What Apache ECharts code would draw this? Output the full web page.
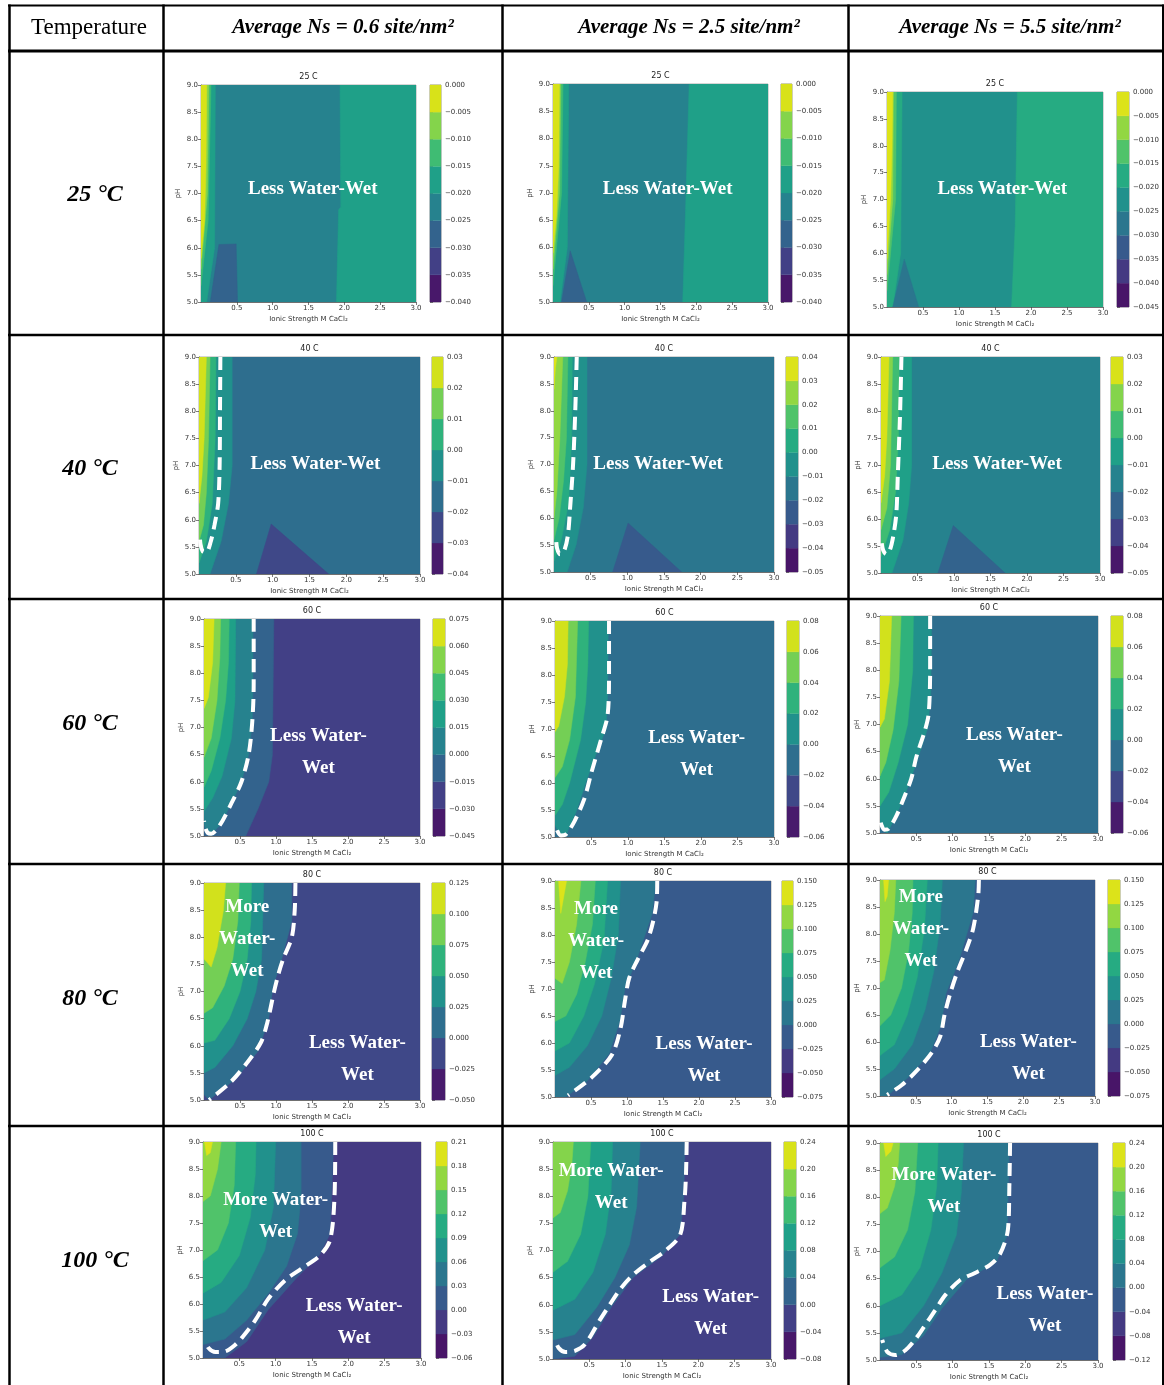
<!DOCTYPE html>
<html><head><meta charset="utf-8">
<script src="https://cdn.jsdelivr.net/npm/echarts@6/dist/echarts.min.js"></script>
<style>html,body{margin:0;padding:0;background:#fff}#c{width:1164px;height:1385px}</style>
</head><body><div id="c"></div>
<script>
// ---------------- DATA ----------------
const temperatureLabels = ['25 °C', '40 °C', '60 °C', '80 °C', '100 °C'];
const plotTitles = ['25 C', '40 C', '60 C', '80 C', '100 C'];
const densityHeaders = ['Average Ns = 0.6 site/nm²', 'Average Ns = 2.5 site/nm²', 'Average Ns = 5.5 site/nm²'];
const headerFirst = 'Temperature';
const xTicks = [0.5, 1.0, 1.5, 2.0, 2.5, 3.0];
const yTicks = [5.0, 5.5, 6.0, 6.5, 7.0, 7.5, 8.0, 8.5, 9.0];
const xName = 'Ionic Strength M CaCl₂';
const yName = 'pH';

// colorbar levels [min, max, step] per column
const levels25 = [[-0.040, 0.000, 0.005], [-0.040, 0.000, 0.005], [-0.045, 0.000, 0.005]];
const levels40 = [[-0.04, 0.03, 0.01], [-0.05, 0.04, 0.01], [-0.05, 0.03, 0.01]];
const levels60 = [[-0.045, 0.075, 0.015], [-0.06, 0.08, 0.02], [-0.06, 0.08, 0.02]];
const levels80 = [[-0.050, 0.125, 0.025], [-0.075, 0.150, 0.025], [-0.075, 0.150, 0.025]];
const levels100 = [[-0.06, 0.21, 0.03], [-0.08, 0.24, 0.04], [-0.12, 0.24, 0.04]];

// filled contour regions: base band index, then [band index, polygon of (ionic strength, pH)]
const fill25a = {base: 3, regions: [
  [4, [[1.89,5],[1.92,6.7],[1.95,6.75],[1.94,9],[3,9],[3,5]]],
  [4, [[0,5],[0.08,5],[0.19,6.0],[0.2,9],[0,9]]],
  [5, [[0,5.3],[0.1,6.5],[0.14,9],[0,9]]],
  [6, [[0,5.6],[0.09,7],[0.11,9],[0,9]]],
  [7, [[0,5.8],[0.05,6.5],[0.07,7.5],[0.08,9],[0,9]]],
  [2, [[0.13,5],[0.25,6.06],[0.49,6.07],[0.51,5]]]
]};
const fill25b = {base: 3, regions: [
  [4, [[1.81,5],[1.85,6.7],[1.9,9],[3,9],[3,5]]],
  [4, [[0,5],[0.1,5],[0.2,6.0],[0.22,9],[0,9]]],
  [5, [[0,5.3],[0.12,7],[0.14,9],[0,9]]],
  [6, [[0,5.6],[0.09,7],[0.11,9],[0,9]]],
  [7, [[0,5.9],[0.05,6.6],[0.08,7.5],[0.09,9],[0,9]]],
  [2, [[0.12,5],[0.24,5.94],[0.47,5]]]
]};
const fill25c = {base: 4, regions: [
  [5, [[1.73,5],[1.78,6.5],[1.81,9],[3,9],[3,5]]],
  [5, [[0,5],[0.08,5],[0.19,6],[0.21,9],[0,9]]],
  [6, [[0,5.3],[0.12,7],[0.13,9],[0,9]]],
  [7, [[0,5.6],[0.08,7],[0.09,9],[0,9]]],
  [8, [[0,5.9],[0.05,7],[0.07,8],[0.08,9],[0,9]]],
  [3, [[0.08,5],[0.24,5.89],[0.44,5]]]
]};
const fill40a = {base: 2, regions: [
  [3, [[0,5],[0.15,5],[0.3,5.6],[0.4,6.3],[0.45,7],[0.45,9],[0,9]]],
  [4, [[0,5.2],[0.1,5.6],[0.18,6.3],[0.22,7.5],[0.23,9],[0,9]]],
  [5, [[0,5.6],[0.06,5.9],[0.1,6.5],[0.13,7.5],[0.15,9],[0,9]]],
  [6, [[0,6.3],[0.04,6.8],[0.07,7.5],[0.1,9],[0,9]]],
  [1, [[0.78,5],[0.98,5.92],[1.76,5]]]
]};
const fill40b = {base: 3, regions: [
  [4, [[0,5],[0.18,5],[0.3,5.5],[0.4,6.2],[0.45,7],[0.45,9],[0,9]]],
  [5, [[0,5.2],[0.1,5.6],[0.2,6.3],[0.24,7.5],[0.25,9],[0,9]]],
  [6, [[0,5.6],[0.07,6],[0.13,6.7],[0.17,7.5],[0.19,9],[0,9]]],
  [7, [[0,6],[0.04,6.5],[0.08,7.5],[0.12,9],[0,9]]],
  [8, [[0,8.4],[0.02,8.8],[0.04,9],[0,9]]],
  [2, [[0.8,5],[1.01,5.91],[1.74,5]]]
]};
const fill40c = {base: 3, regions: [
  [4, [[0,5],[0.15,5],[0.3,5.6],[0.38,6.3],[0.42,7],[0.42,9],[0,9]]],
  [5, [[0,5.3],[0.12,5.8],[0.2,6.5],[0.24,7.5],[0.25,9],[0,9]]],
  [6, [[0,5.8],[0.08,6.2],[0.13,7],[0.16,9],[0,9]]],
  [7, [[0,6.3],[0.05,6.8],[0.08,7.5],[0.11,9],[0,9]]],
  [2, [[0.78,5],[0.99,5.88],[1.7,5]]]
]};
const fill60a = {base: 1, regions: [
  [2, [[0,5],[0.58,5],[0.75,5.5],[0.9,6.0],[0.95,6.5],[0.97,9],[0,9]]],
  [3, [[0,5.25],[0.03,5.08],[0.08,5.0],[0.22,5.2],[0.38,5.6],[0.52,6.0],[0.62,6.5],[0.67,7.1],[0.68,7.8],[0.68,9],[0,9]]],
  [4, [[0,5.45],[0.12,5.7],[0.25,6.1],[0.38,6.8],[0.43,7.5],[0.44,9],[0,9]]],
  [5, [[0,5.9],[0.1,6.2],[0.22,6.8],[0.3,7.5],[0.34,8.2],[0.35,9],[0,9]]],
  [6, [[0,6.45],[0.1,6.8],[0.18,7.5],[0.22,8.3],[0.23,9],[0,9]]],
  [7, [[0,7.35],[0.06,7.55],[0.12,8.2],[0.14,9],[0,9]]]
]};
const fill60b = {base: 2, regions: [
  [3, [[0,5.22],[0.06,5.05],[0.14,5],[0.3,5.5],[0.42,6.0],[0.58,6.6],[0.7,7.0],[0.72,7.6],[0.73,9],[0,9]]],
  [4, [[0,5.4],[0.1,5.6],[0.2,6.0],[0.35,6.8],[0.42,7.5],[0.45,8.2],[0.46,9],[0,9]]],
  [5, [[0,6.1],[0.1,6.3],[0.2,6.8],[0.28,7.6],[0.31,9],[0,9]]],
  [6, [[0,6.95],[0.05,7.05],[0.13,7.6],[0.17,8.2],[0.18,9],[0,9]]]
]};
const fill60c = {base: 2, regions: [
  [3, [[0,5.22],[0.04,5.05],[0.1,5],[0.25,5.4],[0.4,5.9],[0.55,6.5],[0.66,6.95],[0.7,7.6],[0.71,9],[0,9]]],
  [4, [[0,5.5],[0.12,5.75],[0.25,6.3],[0.38,7.0],[0.45,8],[0.46,9],[0,9]]],
  [5, [[0,6.05],[0.08,6.3],[0.18,6.9],[0.26,7.8],[0.29,9],[0,9]]],
  [6, [[0,6.95],[0.06,7.1],[0.13,7.8],[0.16,9],[0,9]]]
]};
const fill80a = {base: 1, regions: [
  [2, [[0,5.1],[0.07,5],[0.45,5.4],[0.75,5.9],[0.9,6.5],[0.96,7.1],[1.06,7.5],[1.22,8.3],[1.22,9],[0,9]]],
  [3, [[0,5.5],[0.15,5.6],[0.4,6.0],[0.6,6.5],[0.72,7.0],[0.8,7.6],[0.83,9],[0,9]]],
  [4, [[0,6.05],[0.15,6.1],[0.35,6.5],[0.5,7],[0.6,7.6],[0.65,8.3],[0.66,9],[0,9]]],
  [5, [[0,6.6],[0.12,6.7],[0.28,7.1],[0.4,7.6],[0.47,8.3],[0.49,9],[0,9]]],
  [6, [[0,7.6],[0.1,7.45],[0.18,7.8],[0.27,8.5],[0.3,9],[0,9]]]
]};
const fill80b = {base: 2, regions: [
  [3, [[0,5],[0.15,5],[0.45,5.3],[0.75,5.8],[0.9,6.4],[0.97,7.0],[1.15,7.6],[1.35,8.4],[1.4,9],[0,9]]],
  [4, [[0,5.4],[0.2,5.55],[0.45,5.95],[0.65,6.5],[0.78,7.2],[0.88,8],[0.91,9],[0,9]]],
  [5, [[0,5.85],[0.2,6.0],[0.4,6.5],[0.55,7.1],[0.68,7.9],[0.73,9],[0,9]]],
  [6, [[0,6.4],[0.15,6.5],[0.3,6.9],[0.42,7.5],[0.52,8.2],[0.56,9],[0,9]]],
  [7, [[0,7.2],[0.1,7.1],[0.2,7.5],[0.3,8.2],[0.36,9],[0,9]]],
  [8, [[0.05,9],[0.08,8.4],[0.12,8.7],[0.16,9]]]
]};
const fill80c = {base: 2, regions: [
  [3, [[0,5],[0.1,5],[0.4,5.35],[0.7,5.8],[0.85,6.3],[0.92,6.9],[1.1,7.5],[1.3,8.4],[1.33,9],[0,9]]],
  [4, [[0,5.3],[0.2,5.5],[0.45,5.95],[0.63,6.6],[0.75,7.3],[0.84,8.2],[0.87,9],[0,9]]],
  [5, [[0,5.75],[0.2,5.95],[0.38,6.5],[0.52,7.2],[0.62,8.1],[0.66,9],[0,9]]],
  [6, [[0,6.3],[0.15,6.5],[0.3,7],[0.4,7.7],[0.45,8.4],[0.46,9],[0,9]]],
  [7, [[0,7.1],[0.06,7.15],[0.14,7.7],[0.2,8.4],[0.22,9],[0,9]]],
  [8, [[0.05,9],[0.07,8.6],[0.1,8.7],[0.12,9]]]
]};
const fill100a = {base: 1, regions: [
  [2, [[0,5.0],[0.3,5.0],[0.6,5.3],[0.9,5.9],[1.3,6.5],[1.6,6.9],[1.75,7.3],[1.8,9],[0,9]]],
  [3, [[0,5.25],[0.3,5.35],[0.6,5.7],[0.9,6.2],[1.15,6.7],[1.3,7.3],[1.35,8],[1.35,9],[0,9]]],
  [4, [[0,5.7],[0.3,5.85],[0.6,6.3],[0.85,7],[0.97,7.8],[1.0,9],[0,9]]],
  [5, [[0,6.2],[0.25,6.4],[0.5,6.9],[0.65,7.6],[0.72,8.4],[0.73,9],[0,9]]],
  [6, [[0,6.8],[0.2,7.0],[0.35,7.5],[0.43,8.2],[0.45,9],[0,9]]],
  [7, [[0,7.9],[0.1,8.0],[0.2,8.5],[0.25,9],[0,9]]],
  [8, [[0.02,9],[0.05,8.75],[0.1,8.8],[0.13,9]]]
]};
const fill100b = {base: 1, regions: [
  [2, [[0,5.0],[0.3,5.05],[0.55,5.4],[0.8,5.95],[1.1,6.5],[1.5,6.9],[1.75,7.3],[1.8,8],[1.82,9],[0,9]]],
  [3, [[0,5.35],[0.3,5.45],[0.6,5.95],[0.85,6.5],[1.05,7.1],[1.15,7.8],[1.2,9],[0,9]]],
  [4, [[0,5.9],[0.3,6.1],[0.55,6.6],[0.72,7.3],[0.8,8.1],[0.82,9],[0,9]]],
  [5, [[0,6.6],[0.2,6.8],[0.38,7.3],[0.48,8],[0.52,9],[0,9]]],
  [6, [[0,7.6],[0.1,7.7],[0.2,8.1],[0.26,8.6],[0.28,9],[0,9]]]
]};
const fill100c = {base: 2, regions: [
  [3, [[0,5.05],[0.3,5.1],[0.6,5.45],[0.85,5.95],[1.2,6.5],[1.6,6.8],[1.75,7.3],[1.78,9],[0,9]]],
  [4, [[0,5.4],[0.3,5.5],[0.6,6.0],[0.85,6.6],[1.05,7.3],[1.12,8.1],[1.15,9],[0,9]]],
  [5, [[0,6.0],[0.3,6.2],[0.55,6.7],[0.7,7.4],[0.78,8.2],[0.8,9],[0,9]]],
  [6, [[0,6.7],[0.2,6.9],[0.38,7.4],[0.48,8.1],[0.52,9],[0,9]]],
  [7, [[0,7.7],[0.1,7.8],[0.2,8.2],[0.25,8.6],[0.27,9],[0,9]]],
  [8, [[0.05,9],[0.08,8.75],[0.15,8.85],[0.18,9]]]
]};

// dashed boundary (zero contour) lines
const dash40a = [[0.29,9],[0.285,8],[0.28,7],[0.26,6.3],[0.21,5.9],[0.16,5.6],[0.1,5.4],[0.05,5.42],[0.02,5.55],[0.01,5.75]];
const dash40b = [[0.31,9],[0.29,8],[0.26,7],[0.22,6.2],[0.19,5.69],[0.14,5.4],[0.08,5.33],[0.04,5.45],[0.03,5.6]];
const dash40c = [[0.28,9],[0.26,7.9],[0.23,6.8],[0.21,6.1],[0.17,5.7],[0.12,5.42],[0.07,5.35],[0.03,5.42],[0.01,5.55]];
const dash60a = [[0.69,9],[0.69,7.8],[0.67,7.1],[0.62,6.5],[0.52,6.0],[0.38,5.6],[0.22,5.2],[0.1,5.04],[0.05,5.06],[0.02,5.15],[0,5.28]];
const dash60b = [[0.74,9],[0.74,8],[0.72,7.25],[0.63,6.8],[0.5,6.2],[0.4,5.7],[0.27,5.3],[0.15,5.05],[0.08,5.03],[0.03,5.12],[0.01,5.25]];
const dash60c = [[0.69,9],[0.69,8],[0.67,7.2],[0.62,6.9],[0.5,6.4],[0.43,6.0],[0.33,5.65],[0.22,5.3],[0.12,5.08],[0.06,5.06],[0.02,5.15],[0,5.28]];
const dash80a = [[1.27,9],[1.26,8.5],[1.22,8.0],[1.1,7.6],[1.04,7.35],[0.97,6.98],[0.88,6.43],[0.79,6.06],[0.6,5.69],[0.37,5.33],[0.07,5.0]];
const dash80b = [[1.42,9],[1.41,8.6],[1.3,7.95],[1.15,7.55],[1.03,7.2],[0.97,6.77],[0.91,6.27],[0.79,5.78],[0.5,5.35],[0.18,5.03]];
const dash80c = [[1.38,9],[1.37,8.7],[1.3,8.1],[1.2,7.7],[1.08,7.3],[0.98,6.9],[0.9,6.5],[0.84,6.1],[0.72,5.8],[0.5,5.45],[0.3,5.2],[0.1,5.02]];
const dash100a = [[1.82,9],[1.81,8],[1.75,7.19],[1.61,6.9],[1.35,6.65],[1.13,6.44],[0.9,6.1],[0.72,5.7],[0.55,5.4],[0.44,5.24],[0.3,5.12],[0.17,5.11],[0.08,5.18],[0.03,5.33]];
const dash100b = [[1.84,9],[1.83,8.4],[1.81,7.93],[1.75,7.29],[1.55,7.0],[1.33,6.79],[1.1,6.55],[0.92,6.28],[0.78,6.0],[0.65,5.73],[0.44,5.27],[0.3,5.15],[0.17,5.13],[0.08,5.2],[0.03,5.35]];
const dash100c = [[1.79,9],[1.78,8.2],[1.76,7.4],[1.65,6.95],[1.51,6.75],[1.3,6.6],[1.1,6.47],[0.9,6.2],[0.76,5.92],[0.6,5.6],[0.48,5.37],[0.35,5.18],[0.21,5.09],[0.1,5.15],[0.03,5.37]];

// region annotations [ionic strength, pH, text]
const text25a = [[1.56, 7.08, 'Less Water-Wet']];
const text25b = [[1.6, 7.07, 'Less Water-Wet']];
const text25c = [[1.6, 7.2, 'Less Water-Wet']];
const text40a = [[1.58, 7.02, 'Less Water-Wet']];
const text40b = [[1.42, 7.01, 'Less Water-Wet']];
const text40c = [[1.59, 7.02, 'Less Water-Wet']];
const text60a = [[1.59, 6.55, 'Less Water-\nWet']];
const text60b = [[1.94, 6.54, 'Less Water-\nWet']];
const text60c = [[1.85, 6.51, 'Less Water-\nWet']];
const text80a = [[0.6, 7.97, 'More\nWater-\nWet'], [2.13, 5.76, 'Less Water-\nWet']];
const text80b = [[0.57, 7.88, 'More\nWater-\nWet'], [2.07, 5.69, 'Less Water-\nWet']];
const text80c = [[0.57, 8.09, 'More\nWater-\nWet'], [2.07, 5.7, 'Less Water-\nWet']];
const text100a = [[1.0, 7.63, 'More Water-\nWet'], [2.08, 5.67, 'Less Water-\nWet']];
const text100b = [[0.8, 8.17, 'More Water-\nWet'], [2.17, 5.85, 'Less Water-\nWet']];
const text100c = [[0.88, 8.12, 'More Water-\nWet'], [2.27, 5.92, 'Less Water-\nWet']];

// ---------------- LAYOUT (pixels) ----------------
// [left, top, right, bottom, colorbarLeft, colorbarRight]
const plotBoxes = [
  [201, 85, 416, 302, 430, 441], [553, 84, 768, 302, 781, 792], [887, 92, 1103, 307, 1117, 1129],
  [199, 357, 420, 574, 432, 443], [554, 357, 774, 572, 786, 798], [881, 357, 1100, 573, 1111, 1123],
  [204, 619, 420, 836, 433, 445], [555, 621, 774, 837, 787, 799], [880, 616, 1098, 833, 1111, 1123],
  [204, 883, 420, 1100, 432, 445], [555, 881, 771, 1097, 782, 793], [880, 880, 1095, 1096, 1108, 1120],
  [203, 1142, 421, 1358, 436, 447], [553, 1142, 771, 1359, 784, 796], [880, 1143, 1098, 1360, 1113, 1125]
];
const rowLabelPos = [[95, 195], [90, 469], [90, 724], [90, 999], [95, 1261]];
const headerPos = [[89, 28], [343, 28], [689, 28], [1010, 28]];

const fills = [fill25a, fill25b, fill25c, fill40a, fill40b, fill40c, fill60a, fill60b, fill60c, fill80a, fill80b, fill80c, fill100a, fill100b, fill100c];
const dashes = [null, null, null, dash40a, dash40b, dash40c, dash60a, dash60b, dash60c, dash80a, dash80b, dash80c, dash100a, dash100b, dash100c];
const texts = [text25a, text25b, text25c, text40a, text40b, text40c, text60a, text60b, text60c, text80a, text80b, text80c, text100a, text100b, text100c];
const levelRows = [levels25, levels40, levels60, levels80, levels100];

// ---------------- STYLE HELPERS ----------------
const VIR = ['#440154','#48186a','#472d7b','#424086','#3b528b','#33638d','#2c728e','#26828e','#21918c','#1fa088','#28ae80','#3fbc73','#5ec962','#84d44b','#addc30','#d8e219','#fde725'];
function hex2rgb(h){ return [parseInt(h.substr(1,2),16), parseInt(h.substr(3,2),16), parseInt(h.substr(5,2),16)]; }
function viridis(t){
  t = Math.max(0, Math.min(1, t));
  const s = t * 16, i = Math.min(15, Math.floor(s)), f = s - i;
  const a = hex2rgb(VIR[i]), b = hex2rgb(VIR[i+1]);
  return 'rgb(' + a.map((v, k) => Math.round(v + (b[k]-v)*f)).join(',') + ')';
}
function bandColor(i, n){ return viridis((i + 0.5) / n); }
function decimalsOf(step){ const s = String(step); return s.indexOf('.') < 0 ? 0 : s.split('.')[1].length; }
function fmtCb(v, dec){ if (Math.abs(v) < 1e-12) v = 0; return v.toFixed(dec).replace('-', '\u2212'); }

const TICK_FONT = 'DejaVu Sans';
const SERIF = 'Liberation Serif';

const grids = [], xAxes = [], yAxes = [], series = [], graphics = [];

for (let k = 0; k < 15; k++) {
  const row = Math.floor(k / 3), col = k % 3;
  const [L, T, R, B, CL, CR] = plotBoxes[k];
  const [lo, hi, step] = levelRows[row][col];
  const n = Math.round((hi - lo) / step);
  const dec = decimalsOf(step);
  const cbTicks = [];
  for (let i = 0; i <= n; i++) cbTicks.push(+(lo + i * step).toFixed(6));

  // main grid
  const gi = grids.length;
  grids.push({left: L, top: T, width: R - L, height: B - T, show: true, borderColor: '#777', borderWidth: 0.6, backgroundColor: 'transparent', containLabel: false, outerBoundsMode: 'none'});
  xAxes.push({gridIndex: gi, type: 'value', min: 0, max: 3,
    axisLine: {show: true, onZero: false, lineStyle: {color: '#444', width: 0.7}},
    axisTick: {show: true, length: 3, customValues: xTicks, lineStyle: {color: '#444', width: 0.7}},
    axisLabel: {show: true, customValues: xTicks, fontSize: 7, color: '#333', fontFamily: TICK_FONT, margin: 3, formatter: v => v.toFixed(1)},
    splitLine: {show: false},
    name: xName, nameLocation: 'middle', nameGap: 14, nameTextStyle: {fontSize: 7, color: '#333', fontFamily: TICK_FONT}});
  yAxes.push({gridIndex: gi, type: 'value', min: 5, max: 9,
    axisLine: {show: true, onZero: false, lineStyle: {color: '#444', width: 0.7}},
    axisTick: {show: true, length: 3, customValues: yTicks, lineStyle: {color: '#444', width: 0.7}},
    axisLabel: {show: true, customValues: yTicks, fontSize: 7, color: '#333', fontFamily: TICK_FONT, margin: 3, formatter: v => v.toFixed(1)},
    splitLine: {show: false},
    name: yName, nameLocation: 'middle', nameGap: 19, nameRotate: 90, nameTextStyle: {fontSize: 7, color: '#333', fontFamily: TICK_FONT}});

  const f = fills[k];
  const polys = [[f.base, [[0,5],[3,5],[3,9],[0,9]]]].concat(f.regions);
  series.push({
    type: 'custom', xAxisIndex: gi, yAxisIndex: gi, silent: true, clip: true, animation: false, z: 1,
    encode: {x: 0, y: 1},
    data: polys.map(p => [p[1][0][0], p[1][0][1]]),
    renderItem: (params, api) => {
      const p = polys[params.dataIndex];
      return {type: 'polygon', shape: {points: p[1].map(pt => api.coord(pt))},
        style: {fill: bandColor(p[0], n), stroke: bandColor(p[0], n), lineWidth: 0.5}};
    }
  });

  if (dashes[k]) {
    series.push({type: 'line', xAxisIndex: gi, yAxisIndex: gi, data: dashes[k], showSymbol: false, symbol: 'none',
      smooth: 0.3, silent: true, animation: false, z: 3, clip: true,
      lineStyle: {color: '#ffffff', width: 4, type: [13, 7], cap: 'butt'}});
  }

  series.push({type: 'scatter', xAxisIndex: gi, yAxisIndex: gi, silent: true, animation: false, z: 4,
    symbol: 'circle', symbolSize: 2, itemStyle: {color: 'rgba(0,0,0,0)'},
    data: texts[k].map(t => ({value: [t[0], t[1]], label: {show: true, formatter: t[2]}})),
    label: {show: true, position: 'inside', color: '#ffffff', opacity: 1, fontFamily: SERIF, fontWeight: 'bold', fontSize: 19, lineHeight: 32, align: 'center', verticalAlign: 'middle'}});

  // colorbar
  const ci = grids.length;
  grids.push({left: CL, top: T, width: CR - CL, height: B - T, show: true, borderColor: '#555', borderWidth: 0.6, backgroundColor: 'transparent', containLabel: false, outerBoundsMode: 'none'});
  xAxes.push({gridIndex: ci, type: 'value', min: 0, max: 1, show: false});
  yAxes.push({gridIndex: ci, type: 'value', min: lo, max: hi, position: 'right',
    axisLine: {show: false},
    axisTick: {show: true, length: 3, customValues: cbTicks, lineStyle: {color: '#444', width: 0.7}},
    axisLabel: {show: true, customValues: cbTicks, fontSize: 7, color: '#333', fontFamily: TICK_FONT, margin: 4, formatter: v => fmtCb(v, dec)},
    splitLine: {show: false}});
  const bands = [];
  for (let i = 0; i < n; i++) bands.push([0.5, cbTicks[i], cbTicks[i+1], i]);
  series.push({type: 'custom', xAxisIndex: ci, yAxisIndex: ci, silent: true, animation: false, z: 1,
    encode: {x: 0, y: [1, 2]}, data: bands,
    renderItem: (params, api) => {
      const a = api.coord([0, api.value(2)]), b = api.coord([1, api.value(1)]);
      return {type: 'rect', shape: {x: a[0], y: a[1], width: b[0] - a[0], height: b[1] - a[1]},
        style: {fill: bandColor(api.value(3), n), stroke: bandColor(api.value(3), n), lineWidth: 0.3}};
    }});

  // plot title
  graphics.push({type: 'text', z: 10, style: {text: plotTitles[row], x: (L + R) / 2, y: T - 8,
    font: '8px "' + TICK_FONT + '"', fill: '#222', align: 'center', textAlign: 'center', verticalAlign: 'middle', textVerticalAlign: 'middle'}});
}

// table lines
const lineStyle = w => ({stroke: '#000', lineWidth: w});
const hLines = [[5.5, 2], [51, 3], [335, 2.5], [599, 2.5], [864, 2.5], [1126, 2.5]];
hLines.forEach(h => graphics.push({type: 'line', z: 20, shape: {x1: 8, y1: h[0], x2: 1164, y2: h[0]}, style: lineStyle(h[1])}));
const vLines = [[9.5, 2.5], [163.5, 2.5], [502.5, 2.5], [848.5, 2.5], [1163, 2]];
vLines.forEach(v => graphics.push({type: 'line', z: 20, shape: {x1: v[0], y1: 4.5, x2: v[0], y2: 1385}, style: lineStyle(v[1])}));

// header texts
graphics.push({type: 'text', z: 21, style: {text: headerFirst, x: headerPos[0][0], y: headerPos[0][1], font: '23px "' + SERIF + '"', fill: '#000', align: 'center', textAlign: 'center', verticalAlign: 'middle', textVerticalAlign: 'middle'}});
densityHeaders.forEach((t, i) => graphics.push({type: 'text', z: 21, style: {text: t, x: headerPos[i+1][0], y: headerPos[i+1][1], font: 'italic bold 21px "' + SERIF + '"', fill: '#000', align: 'center', textAlign: 'center', verticalAlign: 'middle', textVerticalAlign: 'middle'}}));
temperatureLabels.forEach((t, i) => graphics.push({type: 'text', z: 21, style: {text: t, x: rowLabelPos[i][0], y: rowLabelPos[i][1], font: 'italic bold 24px "' + SERIF + '"', fill: '#000', align: 'center', textAlign: 'center', verticalAlign: 'middle', textVerticalAlign: 'middle'}}));

const chart = echarts.init(document.getElementById('c'), null, {renderer: 'canvas'});
chart.setOption({animation: false, backgroundColor: '#ffffff', grid: grids, xAxis: xAxes, yAxis: yAxes, series: series, graphic: graphics});
</script></body></html>
